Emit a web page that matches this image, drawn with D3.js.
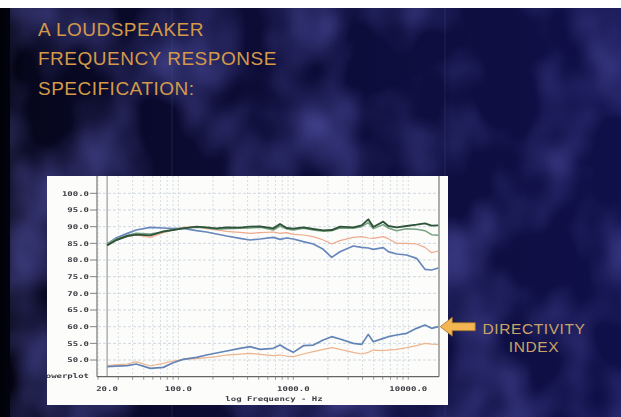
<!DOCTYPE html>
<html>
<head>
<meta charset="utf-8">
<script src="https://cdn.jsdelivr.net/npm/d3@7"></script>
<style>
body { margin: 0; background: #fff; }
svg { display: block; }
</style>
</head>
<body>
<div id="chart"></div>
<script>
var freqs = [24, 29, 36, 43, 57, 74, 90, 110, 144, 176, 215, 263, 344, 420, 513, 670, 766, 875, 1000,
    1222, 1493, 1824, 2155, 2545, 3325, 3929, 4487, 4964, 6063, 6699, 7925, 9679, 11810, 13960, 15950, 18230];

var onAxis = [84.4, 86.0, 87.2, 87.6, 87.4, 88.6, 89.0, 89.5, 90.0, 89.8, 89.5, 89.8, 89.7, 90.0, 90.1, 89.5, 90.8, 89.6, 89.4,
    89.8, 89.3, 88.9, 89.0, 90.0, 89.8, 90.4, 92.2, 89.9, 91.5, 90.2, 89.8, 90.2, 90.6, 91.0, 90.3, 90.4];
var listening = [84.8, 86.3, 87.4, 88.0, 87.8, 88.4, 89.1, 89.6, 89.8, 89.6, 89.2, 89.4, 89.5, 89.6, 89.8, 89.0, 90.2, 89.3, 89.0,
    89.5, 89.0, 88.6, 88.8, 89.6, 89.5, 90.0, 91.2, 89.4, 90.6, 89.6, 88.8, 89.4, 89.2, 88.8, 87.6, 87.4];
var reflections = [84.6, 86.2, 87.0, 87.5, 86.8, 88.2, 89.0, 89.8, 90.0, 89.4, 89.0, 88.6, 88.3, 88.0, 88.2, 88.4, 88.0, 88.2, 87.7,
    87.5, 87.0, 86.0, 84.8, 85.8, 86.8, 87.0, 86.6, 86.5, 87.0, 86.4, 85.0, 85.0, 84.8, 83.8, 82.2, 82.7];
var soundPower = [84.8, 86.7, 88.0, 89.0, 89.8, 89.6, 89.4, 89.5, 88.8, 88.4, 87.8, 87.2, 86.5, 86.0, 86.3, 86.8, 86.2, 86.6, 86.3,
    85.5, 84.8, 83.2, 80.8, 82.5, 84.2, 83.8, 83.6, 83.2, 83.7, 82.5, 81.8, 81.5, 80.5, 77.2, 77.0, 77.6];
var diReflections = [48.3, 48.6, 48.8, 49.5, 48.2, 49.0, 49.7, 50.2, 50.4, 50.7, 51.0, 51.5, 51.8, 52.0, 51.7, 51.3, 51.5, 51.2, 51.0,
    51.8, 52.5, 53.2, 53.7, 53.2, 52.3, 51.8, 52.3, 53.0, 52.8, 53.0, 53.2, 53.7, 54.3, 55.0, 54.8, 54.7];
var diSoundPower = [48.0, 48.2, 48.3, 48.8, 47.5, 47.8, 49.2, 50.2, 50.8, 51.5, 52.1, 52.7, 53.5, 54.0, 53.2, 53.5, 54.5, 53.3, 52.3,
    54.3, 54.5, 56.0, 57.0, 56.3, 55.0, 54.7, 57.7, 55.5, 56.5, 57.0, 57.5, 58.0, 59.5, 60.5, 59.5, 60.0];

var yTicks = [100, 95, 90, 85, 80, 75, 70, 65, 60, 55, 50];
var xTicks = [20, 100, 1000, 10000];
var titleLines = ["A LOUDSPEAKER", "FREQUENCY RESPONSE", "SPECIFICATION:"];
var noteLines = ["DIRECTIVITY", "INDEX"];

var width = 621;
var height = 417;

var svg = d3.select('#chart').append('svg')
    .attr('width', width)
    .attr('height', height);

var defs = svg.append('defs');

var bgGrad = defs.append('linearGradient').attr('id', 'bgGrad')
    .attr('x1', 0).attr('x2', 1).attr('y1', 0).attr('y2', 0);
bgGrad.append('stop').attr('offset', '0%').attr('stop-color', '#010108');
bgGrad.append('stop').attr('offset', '4%').attr('stop-color', '#06061c');
bgGrad.append('stop').attr('offset', '30%').attr('stop-color', '#0b0b32');
bgGrad.append('stop').attr('offset', '100%').attr('stop-color', '#10104a');

// mottled slide texture
var mottle = defs.append('filter').attr('id', 'mottle')
    .attr('x', 0).attr('y', 0).attr('width', '100%').attr('height', '100%');
mottle.append('feTurbulence')
    .attr('type', 'fractalNoise')
    .attr('baseFrequency', '0.011 0.009')
    .attr('numOctaves', 3)
    .attr('seed', 7);
mottle.append('feColorMatrix')
    .attr('type', 'matrix')
    .attr('values', '0 0 0 0 0.10  0 0 0 0 0.10  0 0 0 0 0.45  1.7 0 0 0 -0.72');

var soft = defs.append('filter').attr('id', 'soft');
soft.append('feGaussianBlur').attr('stdDeviation', 0.35);

// slide background
svg.append('rect').attr('width', width).attr('height', height).attr('fill', '#fff');
svg.append('rect')
    .attr('x', 0).attr('y', 8)
    .attr('width', width).attr('height', height - 8)
    .attr('fill', 'url(#bgGrad)');
svg.append('rect')
    .attr('x', 10).attr('y', 8)
    .attr('width', width - 10).attr('height', height - 8)
    .attr('filter', 'url(#mottle)');

// faint scan lines
[172, 445].forEach(function(lx) {
    svg.append('line')
        .attr('x1', lx).attr('x2', lx)
        .attr('y1', 8).attr('y2', height)
        .attr('stroke', '#3a5a80')
        .attr('stroke-opacity', 0.3);
});

// title
svg.append('g').selectAll('text')
    .data(titleLines)
    .enter().append('text')
    .attr('x', 38)
    .attr('y', function(d, i) { return 36 + i * 29.3; })
    .attr('font-family', 'Liberation Sans, Arial, sans-serif')
    .attr('font-size', 19)
    .attr('letter-spacing', 0.5)
    .attr('fill', '#d49a48')
    .text(function(d) { return d; });

// chart panel
var panel = { x: 47, y: 176, w: 401, h: 229 };
svg.append('rect')
    .attr('x', panel.x).attr('y', panel.y)
    .attr('width', panel.w).attr('height', panel.h)
    .attr('fill', '#fcfcfa');

defs.append('clipPath').attr('id', 'panelClip')
    .append('rect')
    .attr('x', panel.x).attr('y', panel.y)
    .attr('width', panel.w).attr('height', panel.h);

var x = d3.scaleLog().domain([20, 18500]).range([98, 439]);
var y = d3.scaleLinear().domain([45, 105.2]).range([376.7, 176]);

var plot = svg.append('g').attr('clip-path', 'url(#panelClip)');
var inner = plot.append('g').attr('filter', 'url(#soft)');

// log grid
var gridFreqs = [];
[10, 100, 1000, 10000].forEach(function(dec) {
    for (var k = 1; k < 10; k++) {
        var f = dec * k;
        if (f >= 20 && f <= 18500) gridFreqs.push(f);
    }
});

inner.append('g').selectAll('line')
    .data(gridFreqs)
    .enter().append('line')
    .attr('x1', function(d) { return x(d); })
    .attr('x2', function(d) { return x(d); })
    .attr('y1', y(105.2)).attr('y2', y(45))
    .attr('stroke', '#ccd5df')
    .attr('stroke-width', 0.8)
    .attr('stroke-dasharray', '2,2');

inner.append('g').selectAll('line')
    .data(yTicks)
    .enter().append('line')
    .attr('x1', x(20)).attr('x2', x(18500))
    .attr('y1', function(d) { return y(d); })
    .attr('y2', function(d) { return y(d); })
    .attr('stroke', '#c6cfd9')
    .attr('stroke-width', 0.8)
    .attr('stroke-dasharray', '3,2');

// frame
inner.append('line')
    .attr('x1', x(20) - 1).attr('x2', x(20) - 1)
    .attr('y1', panel.y).attr('y2', y(45))
    .attr('stroke', '#777').attr('stroke-width', 1.2);
inner.append('line')
    .attr('x1', x(freqs[0])).attr('x2', x(freqs[0]))
    .attr('y1', panel.y).attr('y2', y(45))
    .attr('stroke', '#8a8a8a').attr('stroke-width', 1);
inner.append('line')
    .attr('x1', x(18500)).attr('x2', x(18500))
    .attr('y1', panel.y).attr('y2', y(45))
    .attr('stroke', '#777').attr('stroke-width', 1.2);
inner.append('line')
    .attr('x1', x(20) - 1).attr('x2', x(18500))
    .attr('y1', y(45)).attr('y2', y(45))
    .attr('stroke', '#666').attr('stroke-width', 1.2);

// tick marks
inner.append('g').selectAll('line')
    .data(yTicks)
    .enter().append('line')
    .attr('x1', 90).attr('x2', x(20) - 1)
    .attr('y1', function(d) { return y(d); })
    .attr('y2', function(d) { return y(d); })
    .attr('stroke', '#666').attr('stroke-width', 0.8);
inner.append('g').selectAll('line')
    .data(gridFreqs)
    .enter().append('line')
    .attr('x1', function(d) { return x(d); })
    .attr('x2', function(d) { return x(d); })
    .attr('y1', y(45)).attr('y2', y(45) + 3)
    .attr('stroke', '#777').attr('stroke-width', 0.8);

// curves
var line = d3.line()
    .x(function(d) { return x(d[0]); })
    .y(function(d) { return y(d[1]); });

var series = [
    { values: diReflections, color: '#eeb48c', width: 1.2 },
    { values: diSoundPower, color: '#6384b6', width: 1.7 },
    { values: soundPower, color: '#6887bc', width: 1.7 },
    { values: reflections, color: '#eeaa8c', width: 1.2 },
    { values: listening, color: '#76a282', width: 1.5 },
    { values: onAxis, color: '#2e5238', width: 1.9 }
];

inner.append('g').selectAll('path')
    .data(series)
    .enter().append('path')
    .attr('d', function(s) {
        return line(freqs.map(function(f, i) { return [f, s.values[i]]; }));
    })
    .attr('fill', 'none')
    .attr('stroke', function(s) { return s.color; })
    .attr('stroke-width', function(s) { return s.width; })
    .attr('stroke-linejoin', 'round');

// squashed dot-matrix style labels
function smallText(parent, tx, ty, str, anchor) {
    parent.append('g')
        .attr('transform', 'translate(' + tx + ',' + ty + ') scale(1,0.72)')
        .append('text')
        .attr('text-anchor', anchor)
        .attr('font-family', 'DejaVu Sans Mono, monospace')
        .attr('font-weight', 'bold')
        .attr('font-size', 9)
        .attr('fill', '#3c3c44')
        .text(str);
}

var labels = plot.append('g').attr('filter', 'url(#soft)');
yTicks.forEach(function(d) {
    smallText(labels, 89, y(d) + 2.4, d.toFixed(1), 'end');
});
smallText(labels, 89, y(45) + 1.5, 'powerplot', 'end');

xTicks.forEach(function(d) {
    var lx = d === 20 ? x(d) + 9 : x(d);
    smallText(labels, lx, 390.5, d.toFixed(1), 'middle');
});
smallText(labels, 274, 400.5, 'log Frequency - Hz', 'middle');

// arrow to the directivity index
var tipX = x(freqs[freqs.length - 1]) + 2;
var tipY = y(diSoundPower[diSoundPower.length - 1]);
var arrowPts = [
    [tipX, tipY],
    [tipX + 12, tipY - 9.5],
    [tipX + 12, tipY - 4],
    [tipX + 35, tipY - 4],
    [tipX + 35, tipY + 4],
    [tipX + 12, tipY + 4],
    [tipX + 12, tipY + 9.5]
];
svg.append('polygon')
    .attr('points', arrowPts.map(function(p) { return p.join(','); }).join(' '))
    .attr('fill', '#f3b652')
    .attr('stroke', '#a06f22')
    .attr('stroke-width', 0.8);

svg.append('g').selectAll('text')
    .data(noteLines)
    .enter().append('text')
    .attr('x', 534)
    .attr('y', function(d, i) { return 333.5 + i * 18; })
    .attr('text-anchor', 'middle')
    .attr('font-family', 'Liberation Sans, Arial, sans-serif')
    .attr('font-size', 15.5)
    .attr('letter-spacing', 0.6)
    .attr('fill', '#c9a468')
    .text(function(d) { return d; });
</script>
</body>
</html>
